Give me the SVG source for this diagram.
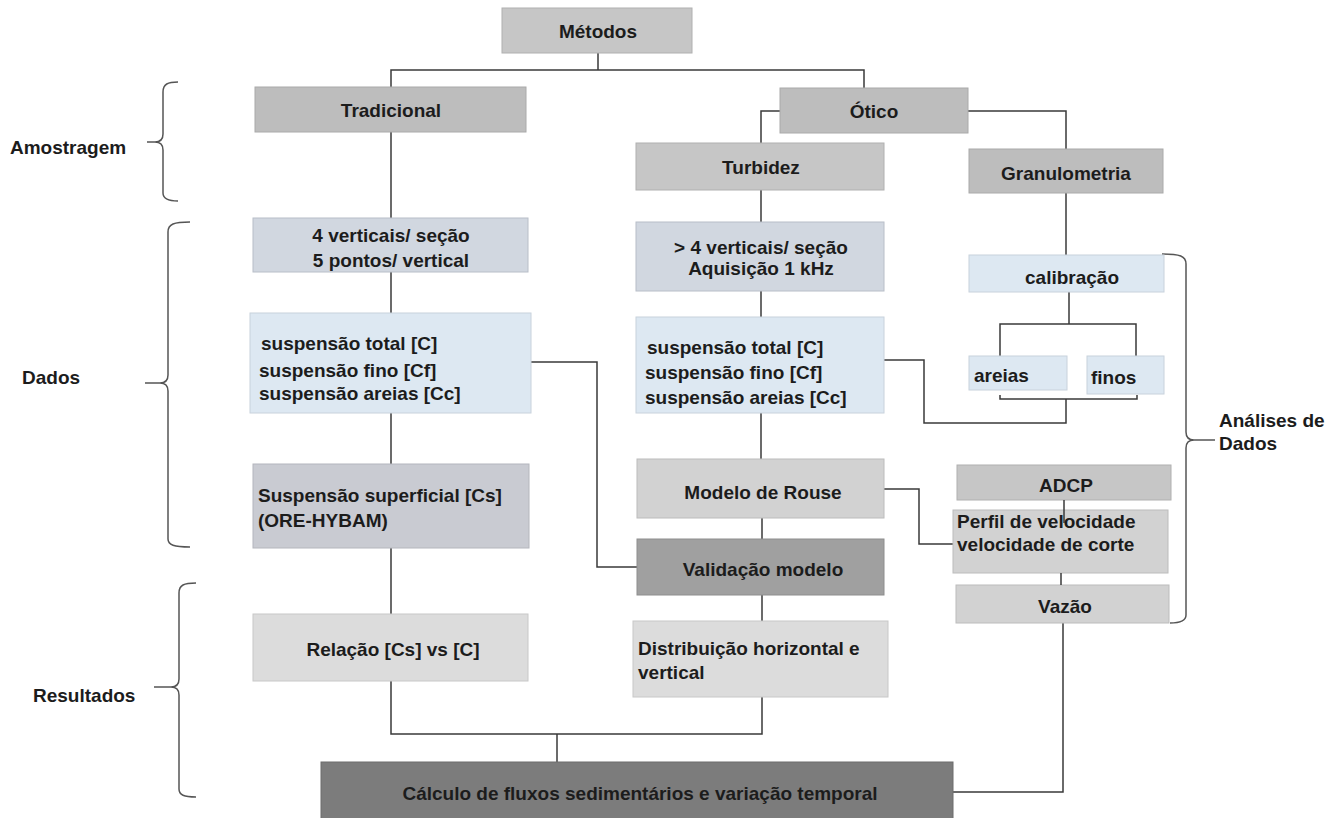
<svg xmlns="http://www.w3.org/2000/svg" width="1342" height="818" viewBox="0 0 1342 818">
<style>
text{font-family:"Liberation Sans",Arial,sans-serif;font-size:19px;font-weight:bold;fill:#1c1c1c;dominant-baseline:central}
.c{text-anchor:middle}
.box{stroke-width:1}
.conn path{fill:none;stroke:#3a3a3a;stroke-width:1.5}
.brace path{fill:none;stroke:#555;stroke-width:1.5}
.g1{fill:#bdbdbd;stroke:#aaa}
.g2{fill:#c6c6c6;stroke:#b0b0b0}
.g3{fill:#d2d2d2;stroke:#bcbcbc}
.g4{fill:#dcdcdc;stroke:#c8c8c8}
.b1{fill:#d1d7e0;stroke:#b8bec8}
.b2{fill:#dde8f2;stroke:#c8d2dc}
.dk{fill:#a0a0a0;stroke:#8e8e8e}
.dk2{fill:#7c7c7c;stroke:#6c6c6c}
</style>
<rect width="1342" height="818" fill="#ffffff"/>
<g class="conn">
<path d="M598,53 V70 M391,87 V70 H864 V88"/>
<path d="M391,132 V218"/>
<path d="M391,272 V313"/>
<path d="M391,413 V464"/>
<path d="M391,548 V614"/>
<path d="M391,681 V734 H762 V697"/>
<path d="M557,734 V762"/>
<path d="M531,362 H597 V567 H637"/>
<path d="M780,111 H761 V143"/>
<path d="M968,111 H1066 V149"/>
<path d="M761,190 V222"/>
<path d="M761,291 V317"/>
<path d="M761,413 V459"/>
<path d="M762,518 V539"/>
<path d="M762,595 V621"/>
<path d="M1066,193 V255"/>
<path d="M1069,292 V324 M1000,356 V324 H1136 V356"/>
<path d="M1000,395 V399 H1137 V395 M1066,399 V423 H924 V360 H884"/>
<path d="M884,489 H919 V544 H953"/>
<path d="M1063,623 V792 H953"/>
</g>
<g class="brace">
<path d="M178,82 C168,82 163,84 163,92 V134 Q163,142 155,142 H147 M155,142 Q163,142 163,150 V193 C163,199 168,201 178,201"/>
<path d="M190,222 C174,222 168,224 168,232 V375 Q168,383 160,383 H145 M160,383 Q168,383 168,391 V539 C168,545 174,547 190,547"/>
<path d="M196,583 C184,583 179,585 179,593 V679 Q179,687 171,687 H154 M171,687 Q179,687 179,695 V789 C179,795 184,797 196,797"/>
<path d="M1162,254 C1180,254 1186,256 1186,264 V432 Q1186,440 1194,440 H1215 M1194,440 Q1186,440 1186,448 V615 C1186,621 1180,623 1170,623"/>
</g>
<g id="metodos"><rect class="box g2" x="502" y="8" width="190" height="45"/><text class="c" x="598" y="31" font-size="21">Métodos</text></g>
<g id="tradicional"><rect class="box g1" x="255" y="87" width="271" height="45"/><text class="c" x="391" y="110">Tradicional</text></g>
<g id="otico"><rect class="box g1" x="780" y="88" width="188" height="45"/><text class="c" x="874" y="111">Ótico</text></g>
<g id="turbidez"><rect class="box g2" x="636" y="143" width="248" height="47"/><text class="c" x="761" y="167">Turbidez</text></g>
<g id="granulometria"><rect class="box g1" x="969" y="149" width="194" height="44"/><text class="c" x="1066" y="173">Granulometria</text></g>
<g id="verticais4"><rect class="box b1" x="253" y="218" width="275" height="54"/><text class="c" x="391" y="235">4 verticais/ seção</text><text class="c" x="391" y="260">5 pontos/ vertical</text></g>
<g id="verticais4plus"><rect class="box b1" x="636" y="222" width="248" height="69"/><text class="c" x="761" y="247">&gt; 4 verticais/ seção</text><text class="c" x="761" y="268">Aquisição 1 kHz</text></g>
<g id="calibracao"><rect class="box b2" x="969" y="255" width="195" height="37"/><text class="c" x="1072" y="277">calibração</text></g>
<g id="suspensao-trad"><rect class="box b2" x="250" y="313" width="281" height="100"/><text x="261" y="343">suspensão total [C]</text><text x="259" y="370">suspensão fino [Cf]</text><text x="259" y="393">suspensão areias [Cc]</text></g>
<g id="suspensao-otico"><rect class="box b2" x="636" y="317" width="248" height="96"/><text x="647" y="347">suspensão total [C]</text><text x="645" y="372">suspensão fino [Cf]</text><text x="645" y="397">suspensão areias [Cc]</text></g>
<g id="areias"><rect class="box b2" x="969" y="356" width="98" height="34"/><text x="974" y="375">areias</text></g>
<g id="finos"><rect class="box b2" x="1087" y="356" width="77" height="38"/><text x="1091" y="377">finos</text></g>
<g id="superficial"><rect class="box" fill="#c9cbd2" stroke="#b4b6bd" x="253" y="464" width="276" height="84"/><text x="258" y="495">Suspensão superficial [Cs]</text><text x="258" y="520">(ORE-HYBAM)</text></g>
<g id="rouse"><rect class="box g3" x="637" y="459" width="247" height="59"/><text class="c" x="763" y="492">Modelo de Rouse</text></g>
<g id="validacao"><rect class="box dk" x="637" y="539" width="247" height="56"/><text class="c" x="763" y="569">Validação modelo</text></g>
<g id="adcp"><rect class="box g2" x="957" y="465" width="214" height="35"/><text class="c" x="1066" y="485">ADCP</text></g>
<g id="perfil"><rect class="box g3" x="953" y="510" width="215" height="63"/><path d="M1064,500 V523" fill="none" stroke="#3a3a3a" stroke-width="1.5"/><text x="957" y="521">Perfil de velocidade</text><text x="957" y="544">velocidade de corte</text></g>
<g id="vazao"><rect class="box g3" x="956" y="585" width="213" height="38"/><path d="M1061,573 V585" fill="none" stroke="#3a3a3a" stroke-width="1.5"/><text class="c" x="1065" y="606">Vazão</text></g>
<g id="relacao"><rect class="box g4" x="253" y="614" width="275" height="67"/><text class="c" x="393" y="649">Relação  [Cs] vs [C]</text></g>
<g id="distribuicao"><rect class="box g4" x="633" y="621" width="255" height="76"/><text x="638" y="648">Distribuição horizontal e</text><text x="638" y="672">vertical</text></g>
<g id="calculo"><rect class="box dk2" x="321" y="762" width="632" height="60"/><text class="c" x="640" y="793" fill="#1e1e1e">Cálculo de fluxos sedimentários e variação temporal</text></g>
<g id="labels">
<text x="10" y="147">Amostragem</text>
<text x="22" y="377">Dados</text>
<text x="33" y="695">Resultados</text>
<text x="1219" y="420">Análises de</text>
<text x="1219" y="443">Dados</text>
</g>
</svg>
